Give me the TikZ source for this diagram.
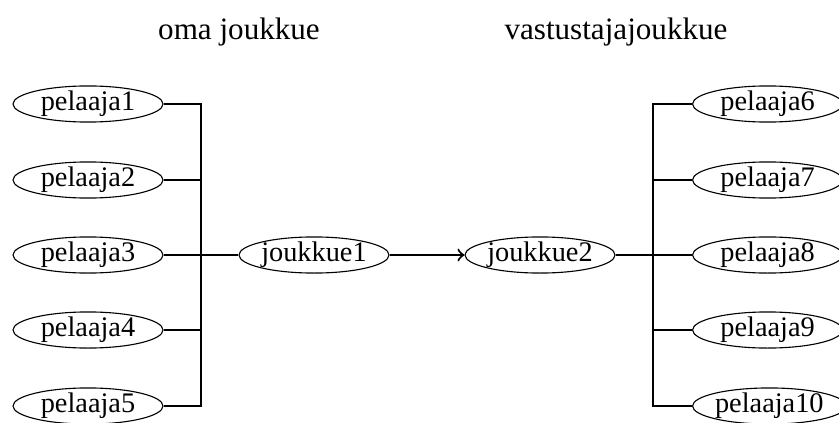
\documentclass[tikz,border=0pt]{standalone}
\usepackage{fontspec}
\setmainfont{Liberation Serif}
\usepackage{tikz}
\usetikzlibrary{shapes.geometric}

\tikzset{
  pelaaja/.style={ellipse,draw,inner xsep=0pt,inner ysep=0pt,minimum width=54pt,
    minimum height=13pt,text height=6.5pt,text depth=1.5pt,font=\fontsize{10.2pt}{12pt}\selectfont},
  otsikko/.style={font=\fontsize{11.2pt}{13pt}\selectfont}
}

\begin{document}
\begin{tikzpicture}[x=0.36pt,y=-0.36pt]
      \useasboundingbox (0,0) rectangle (839,423);
      \node[otsikko] (oma) at (239,32) {oma joukkue};
      \node[otsikko] (vast) at (616,32) {vastustajajoukkue};
      \node[pelaaja] (p1) at (88,104) {pelaaja1};
      \node[pelaaja] (p2) at (88,180) {pelaaja2};
      \node[pelaaja] (p3) at (88,255) {pelaaja3};
      \node[pelaaja] (p4) at (88,330) {pelaaja4};
      \node[pelaaja] (p5) at (88,406) {pelaaja5};
      \node[pelaaja] (j1) at (314,255) {joukkue1};
      \node[pelaaja] (j2) at (540,255) {joukkue2};
      \node[pelaaja,anchor=west] (p6) at (692,104) {pelaaja6};
      \node[pelaaja,anchor=west] (p7) at (692,180) {pelaaja7};
      \node[pelaaja,anchor=west] (p8) at (692,255) {pelaaja8};
      \node[pelaaja,anchor=west] (p9) at (692,330) {pelaaja9};
      \node[pelaaja,anchor=west] (p10) at (692,406) {pelaaja10};
      \coordinate (lbar) at (201,255);
      \coordinate (rbar) at (653,255);
      \draw (p1.east) -| (lbar);
      \draw (p2.east) -| (lbar);
      \draw (p3.east) -- (lbar);
      \draw (p4.east) -| (lbar);
      \draw (p5.east) -| (lbar);
      \draw (lbar) -- (j1.west);
      \draw[line width=0.75pt,->] (j1.east) -- (j2.west);
      \draw (j2.east) -- (rbar);
      \draw (rbar) |- (p6.west);
      \draw (rbar) |- (p7.west);
      \draw (rbar) -- (p8.west);
      \draw (rbar) |- (p9.west);
      \draw (rbar) |- (p10.west);
\end{tikzpicture}
\end{document}
